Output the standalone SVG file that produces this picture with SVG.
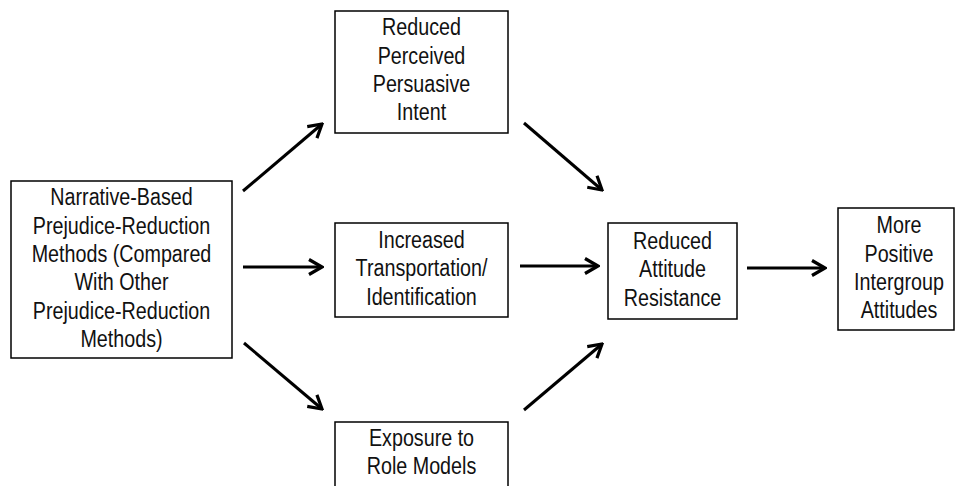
<svg xmlns="http://www.w3.org/2000/svg" width="956" height="486" viewBox="0 0 956 486">
<style>
.box{fill:#fff;stroke:#000;stroke-width:1.5}
.t{font-family:"Liberation Sans",Arial,sans-serif;font-size:24.5px;fill:#111;text-anchor:middle}
.c{stroke:#000;stroke-width:3;fill:none;stroke-linecap:butt}
</style>
<defs>
<marker id="ah" viewBox="-16 -10 18 20" markerWidth="18" markerHeight="20" refX="0" refY="0" orient="auto" markerUnits="userSpaceOnUse">
<path d="M -13 -7.5 L 0 0 L -13 7.5" fill="none" stroke="#000" stroke-width="3.2" stroke-linejoin="miter"/>
</marker>
</defs>
<rect width="956" height="486" fill="#fff"/>
<g id="n1">
<rect class="box" x="11" y="181" width="221" height="177"/>
<text class="t" transform="translate(121.5 0) scale(0.805 1)"><tspan x="0" y="205.5">Narrative-Based</tspan><tspan x="0" y="233.8">Prejudice-Reduction</tspan><tspan x="0" y="262.1">Methods (Compared</tspan><tspan x="0" y="290.4">With Other</tspan><tspan x="0" y="318.7">Prejudice-Reduction</tspan><tspan x="0" y="347">Methods)</tspan></text>
</g>
<g id="n2">
<rect class="box" x="335" y="11" width="173" height="122"/>
<text class="t" transform="translate(421.5 0) scale(0.805 1)"><tspan x="0" y="35.5">Reduced</tspan><tspan x="0" y="63.8">Perceived</tspan><tspan x="0" y="92.1">Persuasive</tspan><tspan x="0" y="120.4">Intent</tspan></text>
</g>
<g id="n3">
<rect class="box" x="335" y="223" width="173" height="94"/>
<text class="t" transform="translate(421.5 0) scale(0.805 1)"><tspan x="0" y="248">Increased</tspan><tspan x="0" y="276.3">Transportation/</tspan><tspan x="0" y="304.6">Identification</tspan></text>
</g>
<g id="n4">
<rect class="box" x="335" y="422" width="173" height="100"/>
<text class="t" transform="translate(421.5 0) scale(0.805 1)"><tspan x="0" y="446">Exposure to</tspan><tspan x="0" y="474">Role Models</tspan></text>
</g>
<g id="n5">
<rect class="box" x="608" y="223" width="129" height="96"/>
<text class="t" transform="translate(672.5 0) scale(0.805 1)"><tspan x="0" y="249">Reduced</tspan><tspan x="0" y="277.3">Attitude</tspan><tspan x="0" y="305.6">Resistance</tspan></text>
</g>
<g id="n6">
<rect class="box" x="838" y="208" width="116" height="122"/>
<text class="t" transform="translate(899 0) scale(0.805 1)"><tspan x="0" y="233.5">More</tspan><tspan x="0" y="261.8">Positive</tspan><tspan x="0" y="290.1">Intergroup</tspan><tspan x="0" y="318.4">Attitudes</tspan></text>
</g>
<g id="connectors">
<path class="c" d="M243 191 L322 124" marker-end="url(#ah)"/>
<path class="c" d="M243 267 L322 267" marker-end="url(#ah)"/>
<path class="c" d="M244 343 L322 409" marker-end="url(#ah)"/>
<path class="c" d="M524 123 L602 190" marker-end="url(#ah)"/>
<path class="c" d="M520 266 L598 266" marker-end="url(#ah)"/>
<path class="c" d="M524 410 L602 344" marker-end="url(#ah)"/>
<path class="c" d="M747 268 L825 268" marker-end="url(#ah)"/>
</g>
</svg>
